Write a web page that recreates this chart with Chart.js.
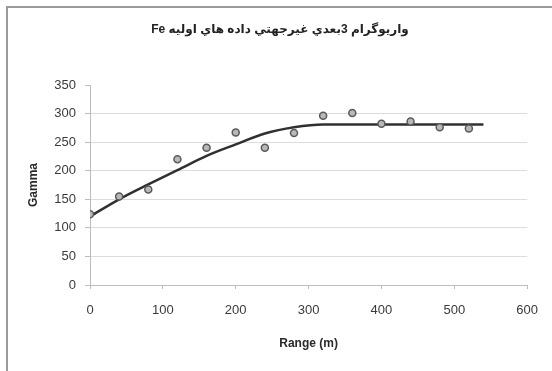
<!DOCTYPE html>
<html>
<head>
<meta charset="utf-8">
<script src="https://cdn.jsdelivr.net/npm/chart.js"></script>
<style>
  html, body { margin: 0; padding: 0; background: #fff; }
  #frame {
    position: absolute; left: 6px; top: 6px; width: 544px; height: 380px;
    border: 2px solid #9a9a9a; border-right: 1px solid #e4e4e4;
  }
  #canvas1 { position: absolute; left: 0; top: 0; }
</style>
</head>
<body>
<div id="frame"></div>
<canvas id="canvas1" width="552" height="371"></canvas>
<script>
const canvas = document.getElementById('canvas1');
var ctx = canvas.getContext('2d');

const chartTitle = 'واريوگرام 3بعدي غيرجهتي داده هاي اوليه Fe';
const xTitle = 'Range (m)';
const yTitle = 'Gamma';

// experimental variogram (lag, gamma)
const lags = [0, 40, 80, 120, 160, 200, 240, 280, 320, 360, 400, 440, 480, 520];
const gammas = [124, 155, 167, 220, 240, 267, 240, 266, 296, 301, 282, 286, 276, 274];

// fitted model line
const modelLags = [0, 40, 80, 120, 160, 200, 240, 280, 320, 360, 400, 440, 480, 520, 540];
const modelGammas = [120, 150, 176, 201, 226, 246, 265, 276, 281, 281, 281, 281, 281, 281, 281];

const fontFamily = '"Liberation Sans", Arial, sans-serif';

const titlePlugin = {
  id: 'rtlTitle',
  afterDraw(chart) {
    const c = chart.ctx;
    c.save();
    c.direction = 'rtl';
    c.fillStyle = '#222';
    c.font = 'bold 12px "Liberation Sans", "DejaVu Sans", sans-serif';
    c.textAlign = 'center';
    c.textBaseline = 'middle';
    c.fillText(chartTitle, 280, 30);
    c.restore();
  }
};

const data = {
  datasets: [{
    type: 'line',
    label: 'model',
    data: modelLags.map((x, i) => ({x: x, y: modelGammas[i]})),
    borderColor: '#303030',
    borderWidth: 2.5,
    pointRadius: 0,
    cubicInterpolationMode: 'monotone',
    fill: false,
    order: 2
  }, {
    type: 'scatter',
    label: 'experimental',
    data: lags.map((x, i) => ({x: x, y: gammas[i]})),
    backgroundColor: '#b8b8b8',
    borderColor: '#5a5a5a',
    borderWidth: 1.5,
    pointRadius: 3.5,
    order: 1
  }]
};

const options = {
  responsive: false,
  animation: false,
  layout: { padding: { top: 85, left: 26, right: 23, bottom: 20 } },
  plugins: {
    legend: { display: false },
    tooltip: { enabled: false }
  },
  scales: {
    x: {
      type: 'linear',
      min: 0,
      max: 600,
      afterFit: (s) => { s.height = 66; },
      grid: {
        drawOnChartArea: false,
        color: '#bdbdbd',
        tickLength: 4
      },
      border: { color: '#bdbdbd' },
      ticks: {
        stepSize: 100,
        padding: 14,
        color: '#3a3a3a',
        font: { family: fontFamily, size: 13 }
      },
      title: {
        display: true,
        text: xTitle,
        color: '#2a2a2a',
        padding: 0,
        font: { family: fontFamily, size: 12, weight: 'bold' }
      }
    },
    y: {
      min: 0,
      max: 350,
      afterFit: (s) => { s.width = 64; },
      grid: {
        color: (c) => (c.tick && c.tick.value === 350) ? 'rgba(0,0,0,0)' : '#dcdcdc',
        tickColor: '#bdbdbd',
        tickLength: 5
      },
      border: { color: '#bdbdbd' },
      ticks: {
        stepSize: 50,
        padding: 9,
        color: '#3a3a3a',
        font: { family: fontFamily, size: 13 }
      },
      title: {
        display: true,
        text: yTitle,
        color: '#2a2a2a',
        padding: 0,
        font: { family: fontFamily, size: 12, weight: 'bold' }
      }
    }
  }
};

const config = {
  data: data,
  options: options,
  plugins: [titlePlugin]
};
var myChart = new Chart(ctx, config);
</script>
</body>
</html>
